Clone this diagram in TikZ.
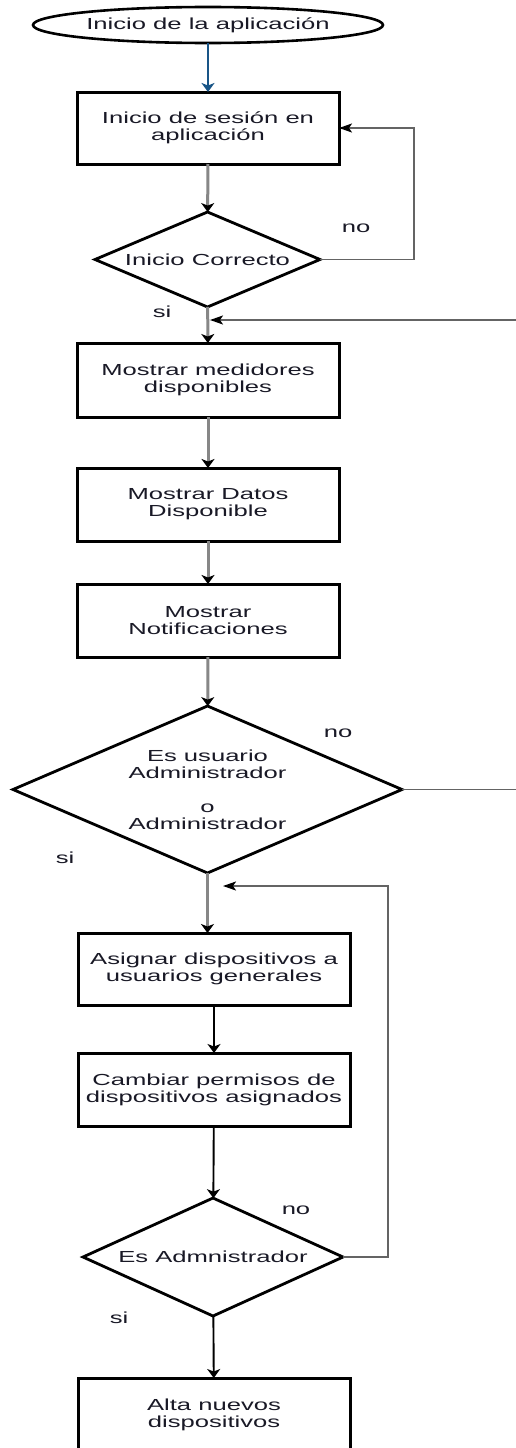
\documentclass[tikz,border=0pt]{standalone}
\usepackage{fontspec}
\setmainfont{Liberation Sans}[FakeStretch=1.6]
\usetikzlibrary{shapes.geometric,arrows.meta}

\definecolor{flowgray}{RGB}{135,135,135}
\definecolor{loopgray}{RGB}{100,100,100}
\definecolor{startblue}{RGB}{25,85,135}
\definecolor{ink}{RGB}{25,25,38}

\begin{document}
\begin{tikzpicture}[x=1pt,y=-1pt,
  every node/.style={font=\fontsize{16}{17}\selectfont, text=ink},
  terminal/.style={draw=black, line width=2.6pt, ellipse, minimum width=350pt,
    minimum height=36pt, inner sep=0pt, outer sep=0pt},
  process/.style={draw=black, line width=3pt, rectangle, minimum height=73pt,
    inner sep=0pt, outer sep=0pt, align=center},
  decision/.style={draw=black, line width=2.8pt, diamond, inner sep=0pt, outer sep=0pt},
  dtext/.style={align=center},
  tagtext/.style={inner sep=0pt},
  downtip/.style={-{Stealth[length=9pt,width=13pt,inset=2.5pt,black]}},
  lefttip/.style={-{Stealth[length=13pt,width=9pt,inset=3pt,black]}},
  blueflow/.style={draw=startblue, line width=2pt,
    -{Stealth[length=9pt,width=13pt,inset=2.5pt,startblue]}},
  grayflow/.style={draw=flowgray, line width=3pt, downtip},
  blackflow/.style={draw=black, line width=1.9pt, downtip},
  loopline/.style={draw=loopgray, line width=1.8pt},
]
\useasboundingbox (0,0) rectangle (516,1448);
\fill[white] (0,0) rectangle (516,1448);
\clip (0,0) rectangle (516,1448);

% nodes of the flow
\node[terminal] (start) at (208,25) {Inicio de la aplicación};
\node[process, minimum width=262pt, minimum height=72pt] (b1) at (208,128) {Inicio de sesión en\\aplicación};
\node[decision, minimum width=225pt, minimum height=95pt] (d1) at (207.5,259.5) {};
\node[dtext] at (d1.center) {Inicio Correcto};
\node[process, minimum width=262pt, minimum height=74pt] (b2) at (208,380) {Mostrar medidores\\disponibles};
\node[process, minimum width=262pt] (b3) at (208,504.5) {Mostrar Datos\\Disponible};
\node[process, minimum width=262pt] (b4) at (208,620.5) {Mostrar\\Notificaciones};
\node[decision, minimum width=389pt, minimum height=167pt] (d2) at (207.5,789.5) {};
\node[dtext] at (d2.center) {Es usuario\\Administrador\\[17pt]o\\Administrador};
\node[process, minimum width=272pt, minimum height=72pt] (b5) at (214,969) {Asignar dispositivos a\\usuarios generales};
\node[process, minimum width=272pt] (b6) at (214,1089.5) {Cambiar permisos de\\dispositivos asignados};
\node[decision, minimum width=260pt, minimum height=118pt] (d3) at (213,1257) {};
\node[dtext] at (d3.center) {Es Admnistrador};
\node[process, minimum width=272pt, minimum height=74pt] (b7) at (214,1415) {Alta nuevos\\dispositivos};

% branch labels
\node[tagtext] (no1) at (356,228) {no};
\node[tagtext] (si1) at (162,312) {si};
\node[tagtext] (no2) at (338,733) {no};
\node[tagtext] (si2) at (65,858) {si};
\node[tagtext] (no3) at (296,1210) {no};
\node[tagtext] (si3) at (119,1318) {si};

% free ends and corners of the return lines
\coordinate (r1) at (414,260);
\coordinate (e1) at (520,320);
\coordinate (j1) at (210,320);
\coordinate (e2) at (520,788);
\coordinate (r3) at (388,1258);
\coordinate (j2) at (223,886);

% connectors
\draw[blueflow] (start) -- (b1);
\draw[grayflow] (b1) -- (d1);
\draw[grayflow] (d1) -- (b2);
\draw[loopline, lefttip] (d1.east) -- (d1.east -| r1) |- (b1.east);
\draw[loopline, lefttip] (e1) -- (j1);
\draw[grayflow] (b2) -- (b3);
\draw[grayflow] (b3) -- (b4);
\draw[grayflow] (b4) -- (d2);
\draw[loopline] (d2.east) -- (d2.east -| e2);
\draw[grayflow] (d2.south) -- (d2.south |- b5.north);
\draw[blackflow] (b5) -- (b6);
\draw[blackflow] (b6) -- (d3);
\draw[blackflow] (d3) -- (b7);
\draw[loopline, lefttip] (d3.east) -- (d3.east -| r3) |- (j2);
\end{tikzpicture}
\end{document}
